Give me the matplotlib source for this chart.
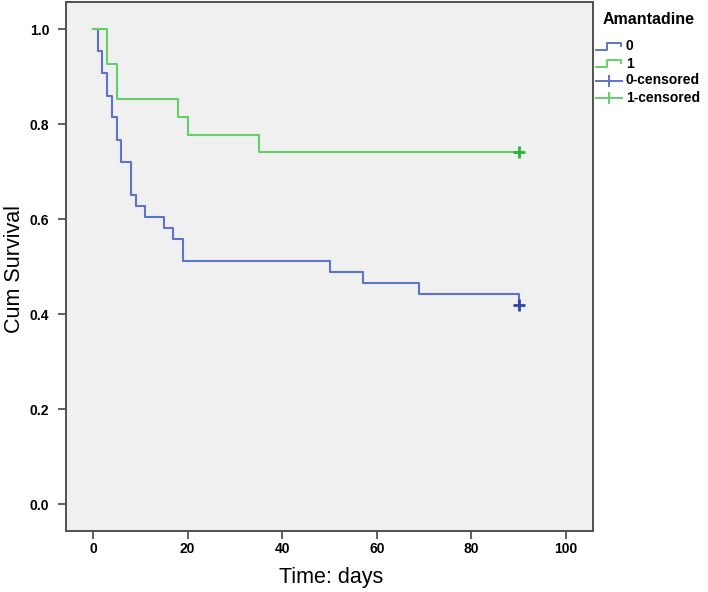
import matplotlib
matplotlib.use("Agg")
import matplotlib.pyplot as plt
from matplotlib.lines import Line2D

plt.rcParams['font.family'] = ['Liberation Sans', 'DejaVu Sans']

# ---- data ----
group_labels = ["0", "1"]
blue_times = [0, 1, 2, 3, 4, 5, 6, 8, 9, 11, 15, 17, 19, 50, 57, 69, 90]
blue_surv = [1.0, 0.953, 0.907, 0.860, 0.814, 0.767, 0.721, 0.651, 0.628,
             0.605, 0.581, 0.558, 0.512, 0.488, 0.465, 0.442, 0.419]
green_times = [0, 3, 5, 18, 20, 35, 90]
green_surv = [1.0, 0.926, 0.852, 0.815, 0.778, 0.741, 0.741]
blue_cens_t = [90]
blue_cens_s = [0.419]
green_cens_t = [90]
green_cens_s = [0.741]
xticks = [0, 20, 40, 60, 80, 100]
yticks = [0.0, 0.2, 0.4, 0.6, 0.8, 1.0]

blue_line = '#5d74c9'
green_line = '#63d067'
blue_mark = '#2f45a8'
green_mark = '#25b534'

W, H = 708, 592
fig = plt.figure(figsize=(W / 100, H / 100), dpi=100)
fig.patch.set_facecolor('white')

def fx(px):
    return px / W

def fy(py):
    return 1 - py / H

ax = fig.add_axes([fx(66), fy(531), fx(593) - fx(66), fy(2) - fy(531)])
ax.set_facecolor('#f0f0f0')

ax.step(blue_times, blue_surv, where='post', color=blue_line, lw=1.5)
ax.step(green_times, green_surv, where='post', color=green_line, lw=1.5)
ax.plot(blue_cens_t, blue_cens_s, linestyle='none', marker='+', ms=9, mew=2,
        color=blue_mark)
ax.plot(green_cens_t, green_cens_s, linestyle='none', marker='+', ms=9, mew=2,
        color=green_mark)

ax.set_xlim(-5.7, 105.7)
ax.set_ylim(-0.056, 1.057)
ax.set_xticks(xticks)
ax.set_yticks(yticks)
ax.set_xticklabels([str(v) for v in xticks], fontsize=10, fontweight='bold')
ax.set_yticklabels([f"{v:.1f}" for v in yticks], fontsize=10, fontweight='bold')
ax.tick_params(axis='x', direction='out', length=6, width=1.2, color='#444444', pad=2)
ax.tick_params(axis='y', direction='out', length=6, width=1.2, color='#444444', pad=6)
for s in ax.spines.values():
    s.set_color('#505050')
    s.set_linewidth(1.4)

fig.text(fx(331), fy(578), "Time: days", fontsize=15.5, ha='center', va='center')
fig.text(fx(15), fy(269), "Cum Survival", fontsize=15.5, ha='center', va='center',
         rotation=90)

# ---- legend (drawn manually to mimic SPSS style) ----
fig.text(fx(603), fy(20), "Amantadine", fontsize=11.5, fontweight='bold',
         ha='left', va='center')
entries = [("0", blue_line, 'step', 46.5),
           ("1", green_line, 'step', 63.5),
           ("0-censored", blue_line, 'cens', 80.5),
           ("1-censored", green_line, 'cens', 97.5)]
for label, col, kind, yc in entries:
    if kind == 'step':
        xs = [596, 607, 607, 621, 621]
        ys = [yc + 3, yc + 3, yc - 3.5, yc - 3.5, yc - 1]
    else:
        xs = [596, 622]
        ys = [yc, yc]
        fig.add_artist(Line2D([fx(609), fx(609)], [fy(yc - 5), fy(yc + 5)],
                              color=col, lw=1.4, transform=fig.transFigure))
    fig.add_artist(Line2D([fx(x) for x in xs], [fy(y) for y in ys],
                          color=col, lw=1.4, transform=fig.transFigure))
    fig.text(fx(626), fy(yc), label, fontsize=10, fontweight='bold',
             ha='left', va='center')

fig.savefig('out.png', dpi=100)
